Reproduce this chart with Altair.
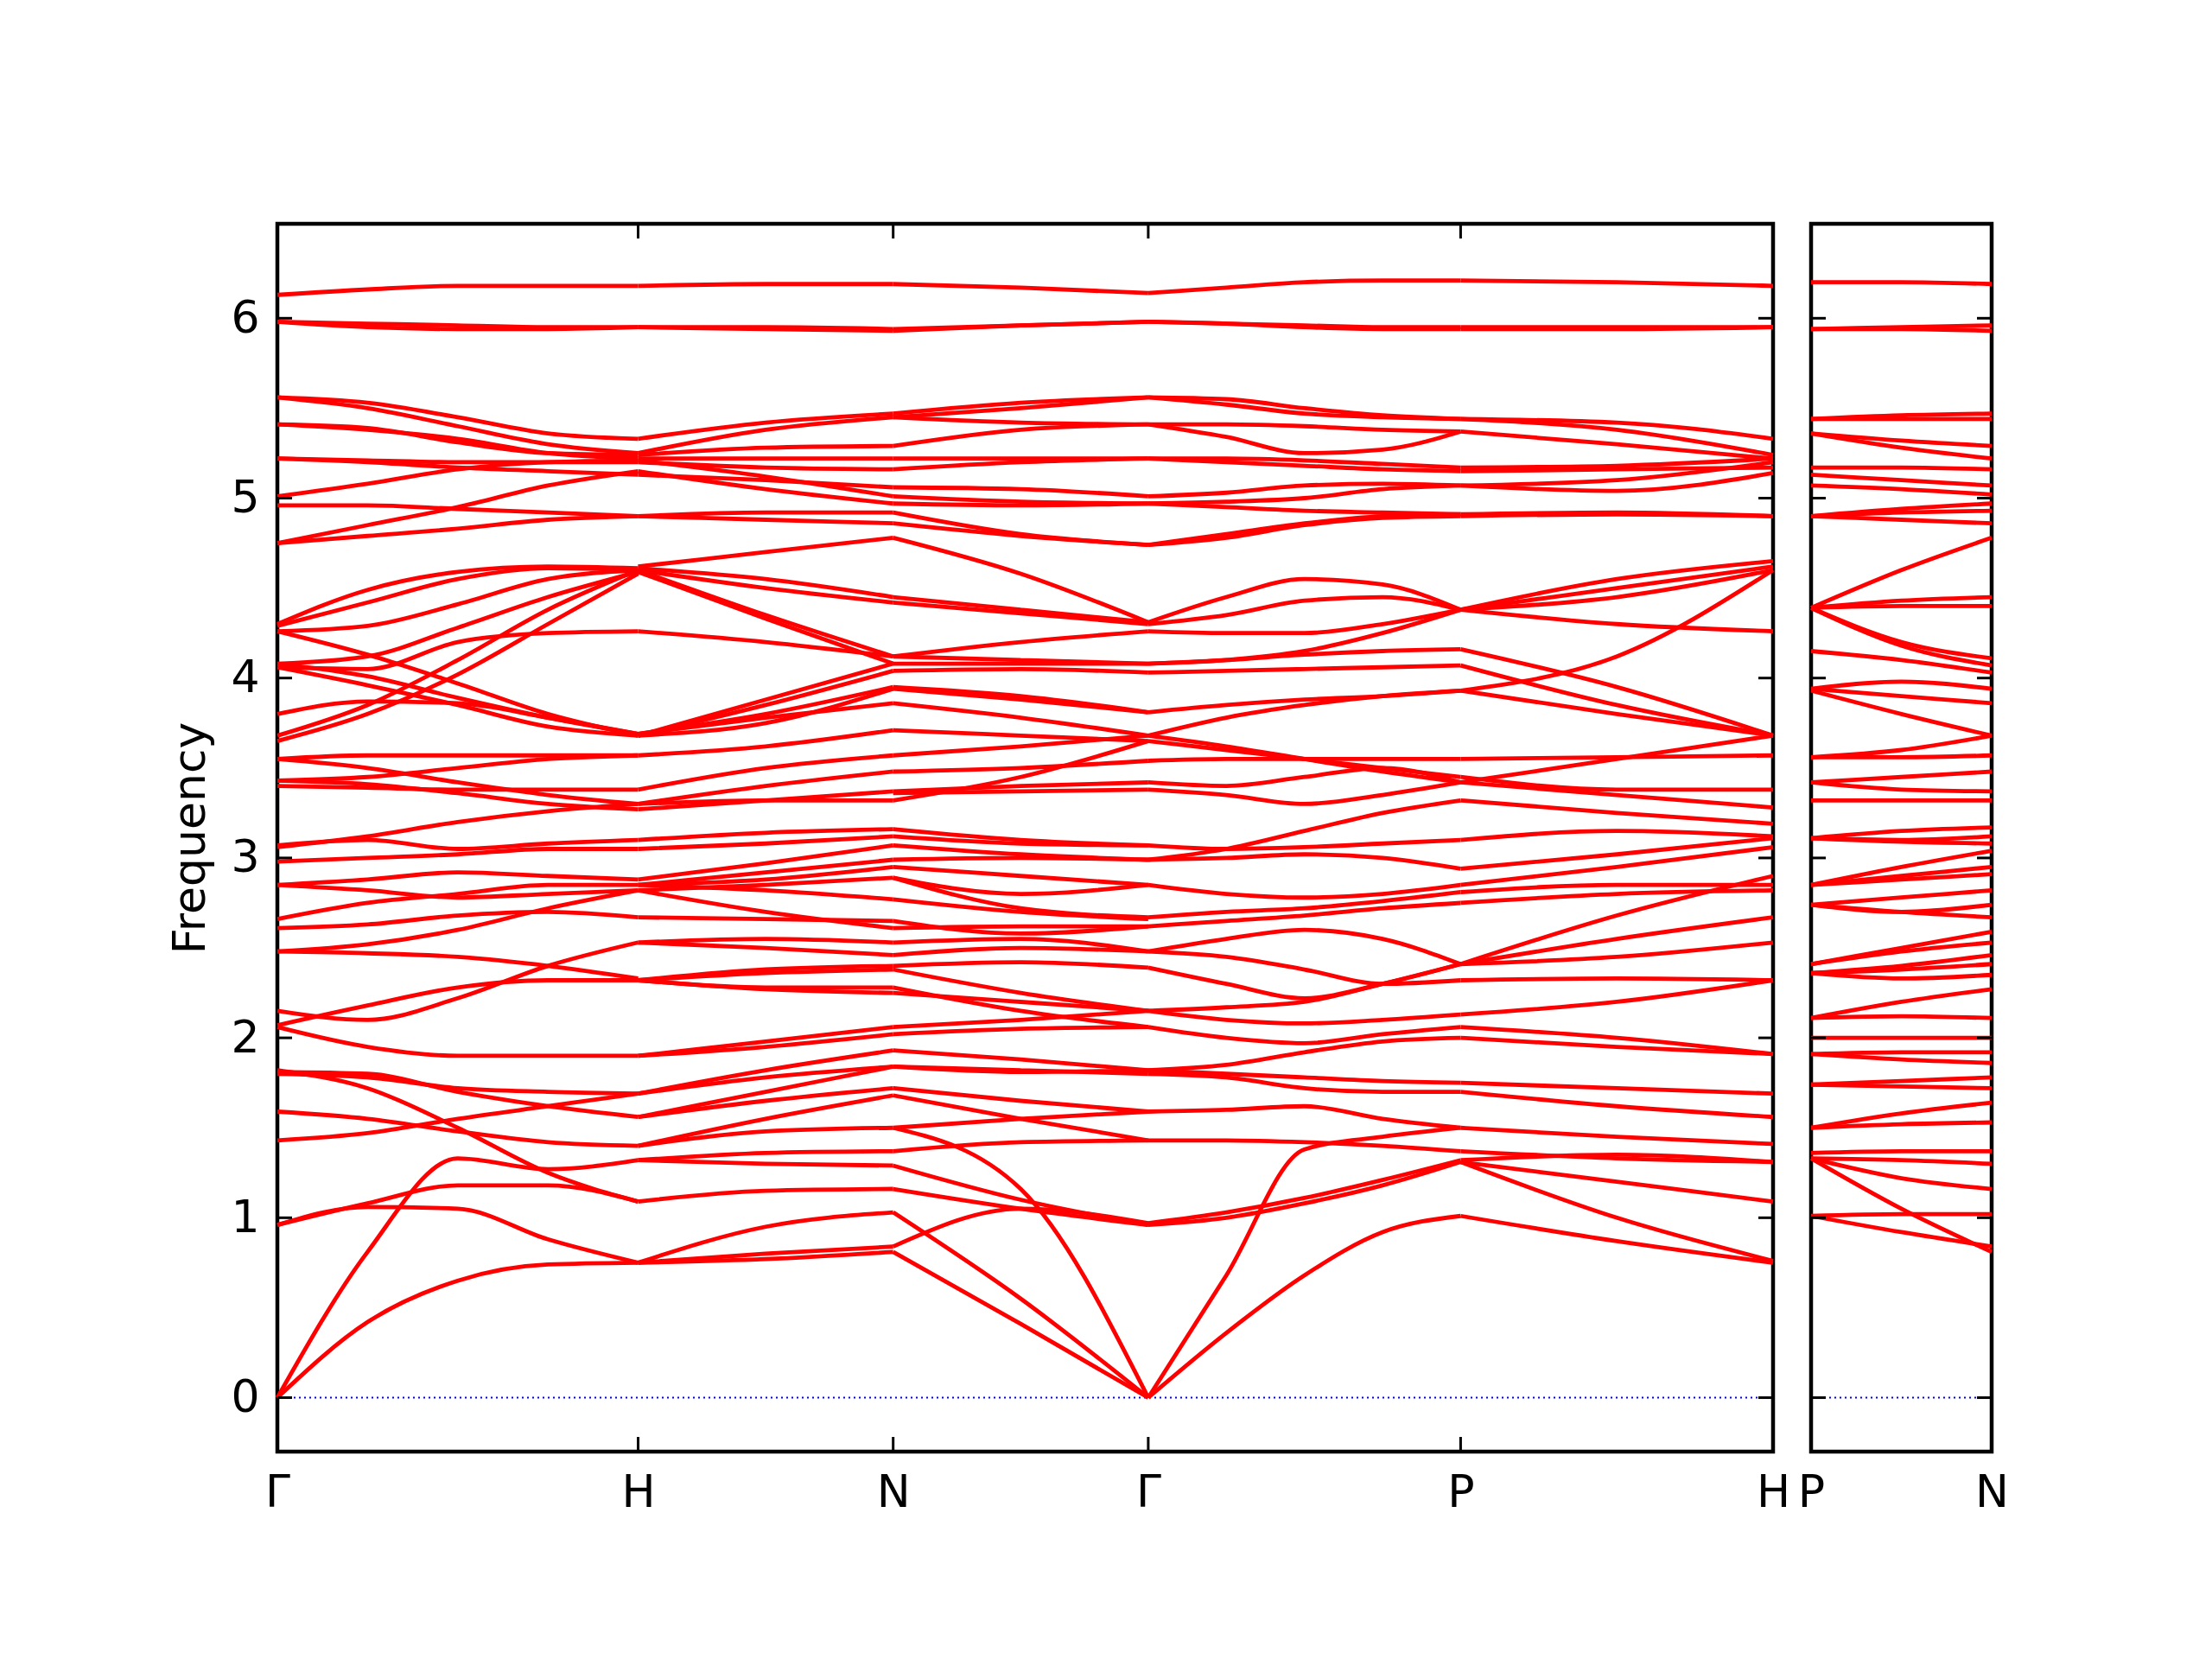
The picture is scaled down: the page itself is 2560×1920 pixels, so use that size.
import altair as alt
import pandas as pd

# ---------------- path / tick data ----------------
main_ticks = [0.0, 1.0, 1.7071, 2.4142, 3.2802, 4.1463]
main_labels = ["Γ", "H", "N", "Γ", "P", "H"]
side_ticks = [0.0, 0.5]
side_labels = ["P", "N"]
y_ticks = [0, 1, 2, 3, 4, 5, 6]

# ---------------- band values per segment ----------------
GH = [
    [6.13, 6.16, 6.18, 6.18, 6.18],
    [5.98, 5.95, 5.94, 5.94, 5.95],
    [5.98, 5.97, 5.96, 5.95, 5.95],
    [5.56, 5.53, 5.45, 5.36, 5.33],
    [5.56, 5.50, 5.40, 5.30, 5.25],
    [5.41, 5.39, 5.31, 5.25, 5.24],
    [5.41, 5.38, 5.33, 5.25, 5.22],
    [5.22, 5.21, 5.20, 5.20, 5.20],
    [5.22, 5.20, 5.17, 5.15, 5.13],
    [5.01, 5.08, 5.16, 5.20, 5.21],
    [4.96, 4.96, 4.94, 4.92, 4.90],
    [4.75, 4.85, 4.95, 5.07, 5.15],
    [4.75, 4.79, 4.83, 4.88, 4.90],
    [4.30, 4.49, 4.59, 4.62, 4.61],
    [4.29, 4.42, 4.55, 4.61, 4.60],
    [4.26, 4.29, 4.41, 4.55, 4.60],
    [4.08, 4.12, 4.28, 4.45, 4.59],
    [4.26, 4.13, 3.97, 3.80, 3.68],
    [4.06, 4.05, 4.20, 4.25, 4.26],
    [4.08, 4.01, 3.89, 3.78, 3.69],
    [4.06, 3.96, 3.85, 3.73, 3.68],
    [3.80, 3.87, 3.86, 3.78, 3.69],
    [3.68, 3.85, 4.10, 4.38, 4.60],
    [3.65, 3.80, 4.02, 4.30, 4.58],
    [3.55, 3.57, 3.57, 3.57, 3.57],
    [3.55, 3.50, 3.42, 3.35, 3.30],
    [3.43, 3.41, 3.36, 3.30, 3.27],
    [3.43, 3.45, 3.50, 3.55, 3.57],
    [3.40, 3.39, 3.38, 3.38, 3.38],
    [3.06, 3.12, 3.20, 3.26, 3.30],
    [3.07, 3.10, 3.05, 3.08, 3.10],
    [2.98, 3.00, 3.02, 3.05, 3.05],
    [2.85, 2.88, 2.92, 2.90, 2.88],
    [2.85, 2.82, 2.78, 2.80, 2.82],
    [2.66, 2.75, 2.80, 2.85, 2.85],
    [2.61, 2.63, 2.68, 2.70, 2.67],
    [2.48, 2.52, 2.60, 2.72, 2.82],
    [2.48, 2.47, 2.45, 2.40, 2.33],
    [2.15, 2.10, 2.22, 2.40, 2.53],
    [2.07, 2.18, 2.28, 2.32, 2.32],
    [2.06, 1.95, 1.90, 1.90, 1.90],
    [1.82, 1.72, 1.50, 1.25, 1.09],
    [1.81, 1.80, 1.70, 1.62, 1.56],
    [1.80, 1.78, 1.72, 1.70, 1.69],
    [1.59, 1.55, 1.48, 1.42, 1.40],
    [1.43, 1.47, 1.55, 1.62, 1.69],
    [0.96, 1.08, 1.18, 1.18, 1.09],
    [0.96, 1.06, 1.05, 0.88, 0.75],
    [0.00, 0.42, 0.65, 0.74, 0.75],
    [0.00, 0.81, 1.33, 1.27, 1.32],
]

HN = [
    [6.18, 6.19, 6.19],
    [5.95, 5.95, 5.94],
    [5.95, 5.94, 5.93],
    [5.33, 5.42, 5.47],
    [5.25, 5.38, 5.45],
    [5.24, 5.28, 5.29],
    [5.22, 5.22, 5.22],
    [5.20, 5.17, 5.16],
    [5.13, 5.10, 5.06],
    [5.21, 5.12, 5.01],
    [5.15, 5.05, 4.97],
    [4.90, 4.92, 4.92],
    [4.90, 4.88, 4.86],
    [4.62, 4.70, 4.78],
    [4.61, 4.55, 4.45],
    [4.60, 4.50, 4.42],
    [4.60, 4.35, 4.12],
    [4.59, 4.33, 4.08],
    [4.26, 4.20, 4.12],
    [3.68, 3.88, 4.08],
    [3.68, 3.85, 4.04],
    [3.69, 3.80, 3.95],
    [3.68, 3.75, 3.94],
    [3.69, 3.78, 3.86],
    [3.57, 3.62, 3.71],
    [3.38, 3.50, 3.57],
    [3.30, 3.40, 3.48],
    [3.27, 3.32, 3.37],
    [3.30, 3.32, 3.32],
    [3.10, 3.14, 3.16],
    [3.05, 3.08, 3.12],
    [2.88, 2.97, 3.07],
    [2.85, 2.92, 2.99],
    [2.85, 2.88, 2.95],
    [2.82, 2.85, 2.89],
    [2.85, 2.82, 2.77],
    [2.67, 2.66, 2.65],
    [2.82, 2.70, 2.61],
    [2.53, 2.55, 2.53],
    [2.53, 2.50, 2.46],
    [2.32, 2.38, 2.40],
    [2.32, 2.36, 2.38],
    [2.32, 2.28, 2.28],
    [2.32, 2.27, 2.25],
    [1.90, 1.98, 2.06],
    [1.90, 1.95, 2.02],
    [1.69, 1.82, 1.93],
    [1.69, 1.78, 1.84],
    [1.56, 1.70, 1.84],
    [1.56, 1.65, 1.72],
    [1.40, 1.55, 1.68],
    [1.40, 1.48, 1.50],
    [1.32, 1.36, 1.37],
    [1.32, 1.30, 1.29],
    [1.09, 1.15, 1.16],
    [0.75, 0.95, 1.03],
    [0.75, 0.80, 0.84],
    [0.75, 0.77, 0.81],
]

NG = [
    [6.19, 6.17, 6.14],
    [5.94, 5.96, 5.98],
    [5.93, 5.96, 5.98],
    [5.47, 5.53, 5.56],
    [5.45, 5.50, 5.56],
    [5.45, 5.42, 5.41],
    [5.29, 5.38, 5.41],
    [5.22, 5.22, 5.22],
    [5.16, 5.20, 5.22],
    [5.06, 5.05, 5.01],
    [5.01, 4.98, 4.97],
    [4.97, 4.96, 4.97],
    [4.92, 4.80, 4.74],
    [4.86, 4.79, 4.74],
    [4.78, 4.58, 4.31],
    [4.45, 4.38, 4.31],
    [4.42, 4.36, 4.30],
    [4.12, 4.20, 4.26],
    [4.12, 4.10, 4.08],
    [4.08, 4.08, 4.08],
    [4.04, 4.05, 4.03],
    [3.95, 3.90, 3.81],
    [3.94, 3.88, 3.81],
    [3.86, 3.78, 3.68],
    [3.71, 3.68, 3.65],
    [3.57, 3.62, 3.68],
    [3.48, 3.50, 3.54],
    [3.37, 3.40, 3.42],
    [3.36, 3.37, 3.38],
    [3.32, 3.45, 3.65],
    [3.16, 3.10, 3.07],
    [3.12, 3.08, 3.07],
    [3.07, 3.02, 2.99],
    [2.99, 3.00, 2.99],
    [2.95, 2.90, 2.85],
    [2.89, 2.80, 2.85],
    [2.89, 2.72, 2.67],
    [2.77, 2.70, 2.66],
    [2.65, 2.58, 2.62],
    [2.61, 2.62, 2.62],
    [2.53, 2.55, 2.48],
    [2.46, 2.50, 2.48],
    [2.40, 2.42, 2.39],
    [2.38, 2.25, 2.15],
    [2.28, 2.15, 2.06],
    [2.25, 2.20, 2.15],
    [2.06, 2.10, 2.15],
    [2.02, 2.05, 2.06],
    [1.93, 1.88, 1.82],
    [1.84, 1.82, 1.80],
    [1.84, 1.81, 1.82],
    [1.72, 1.65, 1.59],
    [1.68, 1.55, 1.43],
    [1.50, 1.55, 1.59],
    [1.37, 1.42, 1.43],
    [1.29, 1.10, 0.96],
    [1.16, 1.05, 0.96],
    [0.84, 1.05, 0.97],
    [1.50, 1.16, 0.00],
    [1.03, 0.55, 0.00],
    [0.81, 0.41, 0.00],
]

GP = [
    [6.14, 6.17, 6.20, 6.21, 6.21],
    [5.98, 5.97, 5.96, 5.95, 5.95],
    [5.98, 5.97, 5.95, 5.94, 5.94],
    [5.56, 5.55, 5.50, 5.46, 5.44],
    [5.56, 5.52, 5.47, 5.45, 5.44],
    [5.41, 5.41, 5.40, 5.38, 5.37],
    [5.41, 5.34, 5.25, 5.27, 5.37],
    [5.22, 5.22, 5.21, 5.19, 5.17],
    [5.22, 5.20, 5.18, 5.16, 5.15],
    [5.01, 5.03, 5.07, 5.08, 5.07],
    [4.97, 4.98, 5.00, 5.05, 5.07],
    [4.97, 4.95, 4.93, 4.92, 4.91],
    [4.74, 4.78, 4.85, 4.89, 4.90],
    [4.74, 4.80, 4.86, 4.90, 4.91],
    [4.31, 4.45, 4.55, 4.52, 4.38],
    [4.30, 4.35, 4.43, 4.45, 4.38],
    [4.26, 4.25, 4.25, 4.30, 4.38],
    [4.08, 4.10, 4.15, 4.25, 4.38],
    [4.08, 4.10, 4.13, 4.15, 4.16],
    [4.03, 4.04, 4.05, 4.06, 4.07],
    [3.81, 3.85, 3.88, 3.90, 3.93],
    [3.68, 3.78, 3.85, 3.90, 3.93],
    [3.65, 3.60, 3.55, 3.50, 3.45],
    [3.68, 3.62, 3.55, 3.48, 3.42],
    [3.54, 3.55, 3.55, 3.55, 3.55],
    [3.42, 3.40, 3.45, 3.50, 3.42],
    [3.38, 3.35, 3.30, 3.35, 3.42],
    [3.07, 3.05, 3.06, 3.08, 3.10],
    [2.99, 3.00, 3.02, 3.00, 2.94],
    [2.99, 3.05, 3.15, 3.25, 3.32],
    [2.85, 2.80, 2.78, 2.80, 2.85],
    [2.67, 2.70, 2.72, 2.76, 2.81],
    [2.62, 2.65, 2.68, 2.72, 2.75],
    [2.48, 2.55, 2.60, 2.55, 2.41],
    [2.48, 2.45, 2.38, 2.30, 2.32],
    [2.39, 2.30, 2.22, 2.30, 2.41],
    [2.15, 2.17, 2.20, 2.30, 2.41],
    [2.15, 2.10, 2.08, 2.10, 2.13],
    [2.06, 2.00, 1.97, 2.02, 2.06],
    [1.82, 1.85, 1.92, 1.98, 2.00],
    [1.82, 1.80, 1.78, 1.76, 1.75],
    [1.80, 1.78, 1.72, 1.70, 1.70],
    [1.59, 1.60, 1.62, 1.55, 1.50],
    [1.43, 1.43, 1.42, 1.40, 1.37],
    [0.96, 1.00, 1.08, 1.18, 1.31],
    [0.97, 1.03, 1.11, 1.21, 1.32],
    [0.00, 0.68, 1.38, 1.45, 1.50],
    [0.00, 0.36, 0.68, 0.92, 1.01],
]

PH = [
    [6.21, 6.20, 6.18],
    [5.95, 5.95, 5.95],
    [5.94, 5.94, 5.95],
    [5.44, 5.42, 5.33],
    [5.44, 5.38, 5.24],
    [5.37, 5.30, 5.22],
    [5.17, 5.18, 5.22],
    [5.15, 5.16, 5.17],
    [5.07, 5.04, 5.14],
    [5.07, 5.10, 5.20],
    [4.91, 4.92, 4.90],
    [4.90, 4.91, 4.90],
    [4.38, 4.55, 4.65],
    [4.38, 4.50, 4.62],
    [4.38, 4.45, 4.60],
    [4.38, 4.30, 4.26],
    [4.16, 3.95, 3.68],
    [4.07, 3.85, 3.68],
    [3.93, 3.80, 3.68],
    [3.93, 4.12, 4.60],
    [3.55, 3.56, 3.57],
    [3.42, 3.55, 3.68],
    [3.42, 3.35, 3.28],
    [3.45, 3.38, 3.38],
    [3.32, 3.25, 3.19],
    [3.10, 3.15, 3.12],
    [2.94, 3.02, 3.11],
    [2.85, 2.95, 3.06],
    [2.81, 2.85, 2.85],
    [2.75, 2.80, 2.82],
    [2.41, 2.68, 2.90],
    [2.41, 2.55, 2.67],
    [2.41, 2.45, 2.53],
    [2.32, 2.33, 2.32],
    [2.13, 2.20, 2.32],
    [2.06, 2.00, 1.91],
    [2.00, 1.95, 1.91],
    [1.75, 1.72, 1.69],
    [1.70, 1.62, 1.56],
    [1.50, 1.45, 1.41],
    [1.37, 1.33, 1.31],
    [1.32, 1.35, 1.31],
    [1.31, 1.20, 1.09],
    [1.31, 1.00, 0.76],
    [1.01, 0.87, 0.75],
]

PN = [
    [6.20, 6.20, 6.19],
    [5.94, 5.95, 5.96],
    [5.94, 5.94, 5.93],
    [5.44, 5.46, 5.47],
    [5.44, 5.44, 5.44],
    [5.36, 5.32, 5.29],
    [5.36, 5.28, 5.22],
    [5.17, 5.17, 5.16],
    [5.13, 5.10, 5.07],
    [5.07, 5.05, 5.02],
    [4.90, 4.94, 4.97],
    [4.90, 4.92, 4.93],
    [4.90, 4.88, 4.86],
    [4.39, 4.60, 4.78],
    [4.39, 4.43, 4.45],
    [4.39, 4.40, 4.40],
    [4.39, 4.20, 4.11],
    [4.39, 4.18, 4.07],
    [4.15, 4.10, 4.03],
    [3.94, 3.98, 3.94],
    [3.94, 3.90, 3.86],
    [3.93, 3.80, 3.68],
    [3.56, 3.60, 3.68],
    [3.56, 3.56, 3.57],
    [3.42, 3.45, 3.48],
    [3.42, 3.38, 3.37],
    [3.32, 3.32, 3.32],
    [3.11, 3.15, 3.17],
    [3.11, 3.10, 3.12],
    [3.11, 3.09, 3.08],
    [2.85, 2.95, 3.04],
    [2.85, 2.90, 2.95],
    [2.85, 2.88, 2.91],
    [2.74, 2.78, 2.82],
    [2.74, 2.70, 2.74],
    [2.74, 2.70, 2.67],
    [2.41, 2.50, 2.59],
    [2.41, 2.48, 2.53],
    [2.36, 2.40, 2.46],
    [2.36, 2.38, 2.41],
    [2.36, 2.33, 2.35],
    [2.11, 2.20, 2.27],
    [2.11, 2.12, 2.11],
    [2.00, 2.00, 2.00],
    [1.91, 1.92, 1.92],
    [1.91, 1.88, 1.86],
    [1.74, 1.76, 1.78],
    [1.74, 1.73, 1.72],
    [1.50, 1.58, 1.64],
    [1.50, 1.52, 1.53],
    [1.36, 1.37, 1.37],
    [1.33, 1.32, 1.30],
    [1.33, 1.22, 1.16],
    [1.33, 1.05, 0.81],
    [1.01, 1.02, 1.02],
    [1.01, 0.92, 0.84],
]


def segment_rows(name, lines, x0, x1):
    rows = []
    for k, vals in enumerate(lines):
        n = len(vals)
        for j, v in enumerate(vals):
            rows.append({"x": x0 + (x1 - x0) * j / (n - 1), "y": v, "id": f"{name}{k}"})
    return rows


main_rows = []
for name, lines, a, b in [("GH", GH, 0, 1), ("HN", HN, 1, 2), ("NG", NG, 2, 3),
                          ("GP", GP, 3, 4), ("PH", PH, 4, 5)]:
    main_rows += segment_rows(name, lines, main_ticks[a], main_ticks[b])
main_df = pd.DataFrame(main_rows)
side_df = pd.DataFrame(segment_rows("PN", PN, side_ticks[0], side_ticks[1]))

W_MAIN, W_SIDE, H = 1731, 209, 1421
TICK = 17
FONT = "DejaVu Sans"
Y_DOMAIN = [-0.3, 6.525]


def label_expr(ticks, labels):
    expr = f"'{labels[-1]}'"
    for i in range(len(ticks) - 2, -1, -1):
        mid = (ticks[i] + ticks[i + 1]) / 2
        expr = f"datum.value < {mid:.4f} ? '{labels[i]}' : ({expr})"
    return expr


def panel(df, ticks, labels, width, show_y):
    xs = alt.Scale(domain=[ticks[0], ticks[-1]], nice=False, zero=False)
    ys = alt.Scale(domain=Y_DOMAIN, nice=False, zero=False)
    x_axis = alt.Axis(values=ticks, labelExpr=label_expr(ticks, labels), title=None,
                      labelFlush=False, labelOverlap=False, labelPadding=22)
    if show_y:
        y_axis = alt.Axis(values=y_ticks, format="d", title="Frequency",
                          labelPadding=21, titlePadding=19)
    else:
        y_axis = None
    bands = alt.Chart(df).mark_line(
        color="red", strokeWidth=4.8, interpolate="monotone"
    ).encode(
        x=alt.X("x:Q", scale=xs, axis=x_axis),
        y=alt.Y("y:Q", scale=ys, axis=y_axis),
        detail="id:N",
    )
    zero = alt.Chart(pd.DataFrame({"y": [0]})).mark_rule(
        color="blue", strokeWidth=2, strokeDash=[2, 4]
    ).encode(y=alt.Y("y:Q", scale=ys, axis=y_axis))
    ydf = pd.DataFrame({"y": y_ticks})
    xdf = pd.DataFrame({"x": ticks})
    ytl = alt.Chart(ydf).mark_rule(color="black", strokeWidth=3).encode(
        y=alt.Y("y:Q", scale=ys, axis=y_axis), x=alt.value(0), x2=alt.value(TICK))
    ytr = alt.Chart(ydf).mark_rule(color="black", strokeWidth=3).encode(
        y=alt.Y("y:Q", scale=ys, axis=y_axis), x=alt.value(width - TICK), x2=alt.value(width))
    xtt = alt.Chart(xdf).mark_rule(color="black", strokeWidth=3).encode(
        x=alt.X("x:Q", scale=xs, axis=x_axis), y=alt.value(0), y2=alt.value(TICK))
    xtb = alt.Chart(xdf).mark_rule(color="black", strokeWidth=3).encode(
        x=alt.X("x:Q", scale=xs, axis=x_axis), y=alt.value(H - TICK), y2=alt.value(H))
    return alt.layer(zero, bands, ytl, ytr, xtt, xtb).properties(width=width, height=H)


main = panel(main_df, main_ticks, main_labels, W_MAIN, True)
side = panel(side_df, side_ticks, side_labels, W_SIDE, False)

chart = alt.hconcat(main, side, spacing=44, bounds="flush").properties(
    padding={"left": 184, "top": 247, "right": 60, "bottom": 60},
    background="white",
).configure_view(
    stroke="black", strokeWidth=4.5
).configure_axis(
    domain=False, ticks=False, grid=False,
    labelFont=FONT, labelFontSize=52, labelColor="black",
    titleFont=FONT, titleFontSize=52, titleFontWeight="normal", titleColor="black",
)

chart.save("out.html", embed_options={"renderer": "svg", "actions": False})
